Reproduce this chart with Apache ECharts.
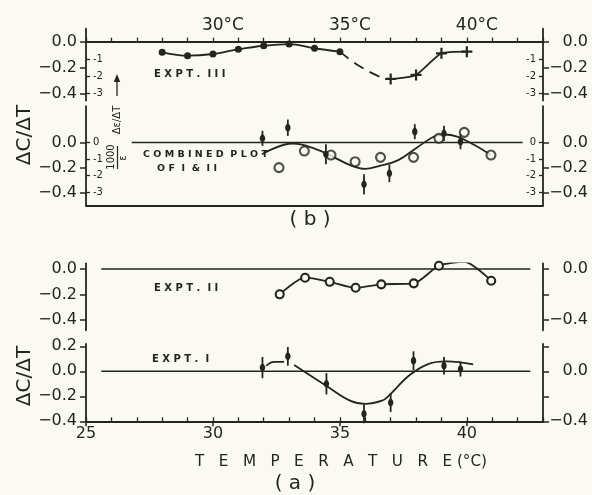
<!DOCTYPE html>
<html><head><meta charset="utf-8">
<script src="https://cdn.jsdelivr.net/npm/echarts@6/dist/echarts.min.js"></script>
<style>html,body{margin:0;padding:0;background:#fbfaf2}#c{width:592px;height:495px}</style>
</head><body><div id="c"></div><script>
const INK = '#24261c', BG = '#fbfaf2', FONT = 'DejaVu Sans';

// ---------- data ----------
// (b) EXPT. III
const exptIIITemps = [28, 29, 30, 31, 32, 33, 34, 35];
const exptIIIVals  = [-0.081, -0.107, -0.094, -0.058, -0.031, -0.018, -0.050, -0.076];
const exptIIIDashTemps = [35, 35.7, 36.6, 37];
const exptIIIDashVals  = [-0.076, -0.178, -0.27, -0.285];
const exptIIICrossTemps = [37, 38, 39, 40];
const exptIIICrossVals  = [-0.285, -0.254, -0.089, -0.076];
// (b) combined plot of I & II
const combOpenTemps = [32.6, 33.6, 34.65, 35.6, 36.6, 37.9, 38.9, 39.9, 40.95];
const combOpenVals  = [-0.20, -0.068, -0.10, -0.153, -0.118, -0.118, 0.033, 0.081, -0.10];
const combFilledTemps = [31.95, 32.95, 34.45, 35.95, 36.95, 37.95, 39.1, 39.75];
const combFilledVals  = [0.033, 0.118, -0.094, -0.333, -0.245, 0.086, 0.073, 0.006];
const combFilledErr   = [0.06, 0.065, 0.08, 0.08, 0.07, 0.06, 0.06, 0.06];
const combFitTemps = [31.93, 33.15, 34.0, 34.7, 35.4, 36.0, 36.5, 37.3, 38.07, 38.73, 39.1, 39.65, 40.3, 40.95];
const combFitVals  = [-0.093, -0.008, -0.048, -0.11, -0.18, -0.21, -0.19, -0.14, -0.035, 0.05, 0.064, 0.045, -0.02, -0.10];
const combZeroRange = [26.8, 42.2];
// (a) EXPT. II
const exptIITemps = [32.63, 33.63, 34.6, 35.62, 36.63, 37.91, 38.9, 39.9, 40.96];
const exptIIVals  = [-0.198, -0.068, -0.10, -0.147, -0.12, -0.112, 0.026, 0.057, -0.092];
const exptIIZeroRange = [25.6, 42.5];
// (a) EXPT. I
const exptITemps = [31.95, 32.95, 34.47, 35.95, 37.0, 37.9, 39.1, 39.75];
const exptIVals  = [0.03, 0.12, -0.10, -0.34, -0.25, 0.085, 0.045, 0.018];
const exptIErr   = [0.085, 0.075, 0.085, 0.075, 0.075, 0.075, 0.07, 0.06];
const exptIArcTemps = [32.1, 32.43, 32.8];
const exptIArcVals  = [0.044, 0.076, 0.076];
const exptIFitTemps = [33.2, 34.46, 35.4, 36.0, 36.66, 36.9, 37.75, 38.5, 39.2, 40.25];
const exptIFitVals  = [0.05, -0.116, -0.235, -0.26, -0.235, -0.2, -0.03, 0.06, 0.08, 0.055];
const exptIZeroRange = [25.6, 42.5];
// axis ticks
const tempMin = 25, tempMax = 43;
const topTempLabels = [30, 35, 40];
const bottomTempLabels = [25, 30, 35, 40];
const epsFactor = 0.132;  // 1000·Δε/ε unit in ΔC/ΔT units

// ---------- helpers ----------
const zip = (a, b) => a.map((v, i) => [v, b[i]]);
const fmtVal = v => (Math.abs(v) < 1e-9 ? '0.0' : (v < 0 ? '−' : '') + Math.abs(v).toFixed(1));
const fmtEps = v => (Math.abs(v) < 1e-9 ? '0' : '-' + Math.round(Math.abs(v)));
const lineW = 1.8;

function yOuter(grid, side, min, max, ticks, labels) {
  return {
    type: 'value', gridIndex: grid, position: side, min, max, offset: 0,
    axisLine: { show: true, onZero: false, lineStyle: { color: INK, width: lineW } },
    axisTick: { show: true, inside: false, length: 6, customValues: ticks, lineStyle: { color: INK, width: 1.5 } },
    axisLabel: { show: true, customValues: labels, formatter: fmtVal, color: INK, fontFamily: FONT, fontSize: 16,
      margin: side === 'left' ? 9 : 45, align: 'right' },
    splitLine: { show: false }
  };
}
function yInner(grid, side, min, max, ticks) {
  return {
    type: 'value', gridIndex: grid, position: side, min: min / epsFactor, max: max / epsFactor, offset: 0,
    axisLine: { show: false, onZero: false },
    axisTick: { show: true, inside: true, length: 4, customValues: ticks, lineStyle: { color: INK, width: 1.3 } },
    axisLabel: { show: true, inside: true, customValues: ticks, formatter: fmtEps, color: INK, fontFamily: FONT, fontSize: 10, margin: 7 },
    splitLine: { show: false }
  };
}

// grids: left 86, right edge 543
const grids = [
  { left: 86, right: 49, top: 28.6, height: 72 },     // EXPT III
  { left: 86, right: 49, top: 106.1, height: 99.2 },  // combined
  { left: 86, right: 49, top: 263.3, height: 67 },    // EXPT II
  { left: 86, right: 49, top: 343.8, height: 77.5 }   // EXPT I
];
const yR = [[-0.45, 0.1], [-0.5, 0.29], [-0.48, 0.045], [-0.4, 0.22]];

const xAxes = [
  { type: 'value', gridIndex: 0, position: 'top', min: tempMin, max: tempMax, interval: 1,
    axisLine: { show: true, onZero: true, lineStyle: { color: INK, width: lineW } },
    axisTick: { show: true, length: 4, lineStyle: { color: INK, width: 1.3 } },
    axisLabel: { show: true, margin: -5, color: INK,
      formatter: v => topTempLabels.includes(v) ? '{s|}{t|' + v + '°C}' : '',
      rich: { s: { width: 20, height: 17 }, t: { fontSize: 17, lineHeight: 17, fontFamily: FONT, color: INK } } },
    splitLine: { show: false } },
  { type: 'value', gridIndex: 1, position: 'bottom', min: tempMin, max: tempMax,
    axisLine: { show: true, onZero: false, lineStyle: { color: INK, width: lineW } },
    axisTick: { show: false }, axisLabel: { show: false }, splitLine: { show: false } },
  { type: 'value', gridIndex: 2, show: false, min: tempMin, max: tempMax, splitLine: { show: false } },
  { type: 'value', gridIndex: 3, position: 'bottom', min: tempMin, max: tempMax, interval: 1,
    axisLine: { show: true, onZero: false, lineStyle: { color: INK, width: lineW } },
    axisTick: { show: true, inside: false, length: 5, customValues: bottomTempLabels, lineStyle: { color: INK, width: 1.5 } },
    axisLabel: { show: true, customValues: bottomTempLabels, color: INK, fontFamily: FONT, fontSize: 16, margin: 5 },
    splitLine: { show: false } },
  { type: 'value', gridIndex: 3, position: 'bottom', min: tempMin, max: tempMax, interval: 1,
    axisLine: { show: false, onZero: false },
    axisTick: { show: true, inside: true, length: 4, lineStyle: { color: INK, width: 1.3 } },
    axisLabel: { show: false }, splitLine: { show: false } }
];

const yAxes = [
  // grid 0
  yOuter(0, 'left', yR[0][0], yR[0][1], [0, -0.2, -0.4], [0, -0.2, -0.4]),
  yInner(0, 'left', yR[0][0], yR[0][1], [-1, -2, -3]),
  yOuter(0, 'right', yR[0][0], yR[0][1], [0, -0.2, -0.4], [0, -0.2, -0.4]),
  yInner(0, 'right', yR[0][0], yR[0][1], [-1, -2, -3]),
  // grid 1
  yOuter(1, 'left', yR[1][0], yR[1][1], [0, -0.2, -0.4], [0, -0.2, -0.4]),
  yInner(1, 'left', yR[1][0], yR[1][1], [0, -1, -2, -3]),
  yOuter(1, 'right', yR[1][0], yR[1][1], [0, -0.2, -0.4], [0, -0.2, -0.4]),
  yInner(1, 'right', yR[1][0], yR[1][1], [0, -1, -2, -3]),
  // grid 2
  yOuter(2, 'left', yR[2][0], yR[2][1], [0, -0.2, -0.4], [0, -0.2, -0.4]),
  yOuter(2, 'right', yR[2][0], yR[2][1], [0, -0.2, -0.4], [0, -0.4]),
  // grid 3
  yOuter(3, 'left', yR[3][0], yR[3][1], [0.2, 0, -0.2, -0.4], [0.2, 0, -0.2, -0.4]),
  yOuter(3, 'right', yR[3][0], yR[3][1], [0.2, 0, -0.2, -0.4], [0, -0.4])
];

function errRender(params, api) {
  const x = api.value(0), y = api.value(1), e = api.value(2);
  const p = api.coord([x, y]), lo = api.coord([x, y - e]), hi = api.coord([x, y + e]);
  return { type: 'group', children: [
    { type: 'line', shape: { x1: p[0], y1: hi[1], x2: p[0], y2: lo[1] }, style: { stroke: INK, lineWidth: 1.8 } },
    { type: 'ellipse', shape: { cx: p[0], cy: p[1], rx: 2.7, ry: 3.9 }, style: { fill: INK } }
  ] };
}
const crossSym = 'path://M4,0h2v4h4v2h-4v4h-2v-4h-4v-2h4z';
const lineSeries = (xi, yi, data, extra) => Object.assign({
  type: 'line', xAxisIndex: xi, yAxisIndex: yi, data, symbol: 'none', smooth: 0.35,
  lineStyle: { color: INK, width: lineW }, itemStyle: { color: INK }, silent: true, animation: false
}, extra || {});
const zeroLine = (xi, yi, r) => lineSeries(xi, yi, [[r[0], 0], [r[1], 0]], { smooth: false, lineStyle: { color: INK, width: 1.6 }, z: 1 });
const openCircle = { color: BG, borderColor: INK, borderWidth: 2.1 };

const series = [
  // EXPT III
  lineSeries(0, 0, zip(exptIIITemps, exptIIIVals), { symbol: 'circle', symbolSize: 7 }),
  lineSeries(0, 0, zip(exptIIIDashTemps, exptIIIDashVals), { lineStyle: { color: INK, width: lineW, type: [11, 7] } }),
  lineSeries(0, 0, zip(exptIIICrossTemps, exptIIICrossVals), { symbol: crossSym, symbolSize: 11, smooth: 0.2 }),
  // combined
  zeroLine(1, 4, combZeroRange),
  lineSeries(1, 4, zip(combFitTemps, combFitVals), { smooth: 0.4 }),
  { type: 'scatter', xAxisIndex: 1, yAxisIndex: 4, data: zip(combOpenTemps, combOpenVals), symbol: 'circle', symbolSize: 9,
    itemStyle: openCircle, z: 4, silent: true, animation: false },
  { type: 'custom', xAxisIndex: 1, yAxisIndex: 4, renderItem: errRender, clip: false, z: 5, silent: true, animation: false,
    data: combFilledTemps.map((t, i) => [t, combFilledVals[i], combFilledErr[i]]) },
  // EXPT II
  zeroLine(2, 8, exptIIZeroRange),
  lineSeries(2, 8, zip(exptIITemps, exptIIVals), { symbol: 'circle', symbolSize: 8, itemStyle: openCircle, smooth: 0.25 }),
  // EXPT I
  zeroLine(3, 10, exptIZeroRange),
  lineSeries(3, 10, zip(exptIArcTemps, exptIArcVals), { smooth: 0.5 }),
  lineSeries(3, 10, zip(exptIFitTemps, exptIFitVals), { smooth: 0.4 }),
  { type: 'custom', xAxisIndex: 3, yAxisIndex: 10, renderItem: errRender, clip: false, z: 5, silent: true, animation: false,
    data: exptITemps.map((t, i) => [t, exptIVals[i], exptIErr[i]]) }
];

const txt = (x, y, text, size, extra) => Object.assign({ type: 'text', x, y, silent: true,
  style: Object.assign({ text, fill: INK, font: (extra && extra.weight || 'normal') + ' ' + size + 'px "' + FONT + '"',
    align: 'left', verticalAlign: 'middle' }, extra && extra.style || {}) }, extra && extra.el || {});
const rot = { el: { rotation: Math.PI / 2 }, style: { align: 'center' } };

const graphic = [
  txt(25, 135, 'ΔC/ΔT', 20, rot),
  txt(25, 376, 'ΔC/ΔT', 20, rot),
  // 1000/ε · Δε/ΔT with arrow
  txt(117, 120, 'Δε/ΔT', 10, rot),
  txt(111.5, 157, '1000', 10, rot),
  txt(123.5, 158, 'ε', 10, rot),
  { type: 'line', silent: true, shape: { x1: 117.5, y1: 146, x2: 117.5, y2: 169 }, style: { stroke: INK, lineWidth: 1.2 } },
  { type: 'line', silent: true, shape: { x1: 117, y1: 96, x2: 117, y2: 80 }, style: { stroke: INK, lineWidth: 1.3 } },
  { type: 'polygon', silent: true, shape: { points: [[117, 74], [113.8, 82], [120.2, 82]] }, style: { fill: INK } },
  txt(154, 74, 'E X P T .  I I I', 10, { weight: 'bold' }),
  txt(143, 155, 'C O M B I N E D  P L O T', 9.5, { weight: 'bold' }),
  txt(157, 169, 'O F  I  &  I I', 9.5, { weight: 'bold' }),
  txt(154, 288, 'E X P T .  I I', 10, { weight: 'bold' }),
  txt(152, 359, 'E X P T .  I', 10, { weight: 'bold' }),
  txt(310, 220, '( b )', 20, { style: { align: 'center' } }),
  txt(295, 484, '( a )', 20, { style: { align: 'center' } }),
  txt(341, 462, 'T   E   M   P   E   R   A   T   U   R   E (°C)', 15.2, { style: { align: 'center' } })
];

const chart = echarts.init(document.getElementById('c'), null, { renderer: 'canvas' });
chart.setOption({
  backgroundColor: BG, animation: false,
  grid: grids.map(g => Object.assign({ outerBoundsMode: 'none', containLabel: false }, g)),
  xAxis: xAxes, yAxis: yAxes, series, graphic
});
</script></body></html>
